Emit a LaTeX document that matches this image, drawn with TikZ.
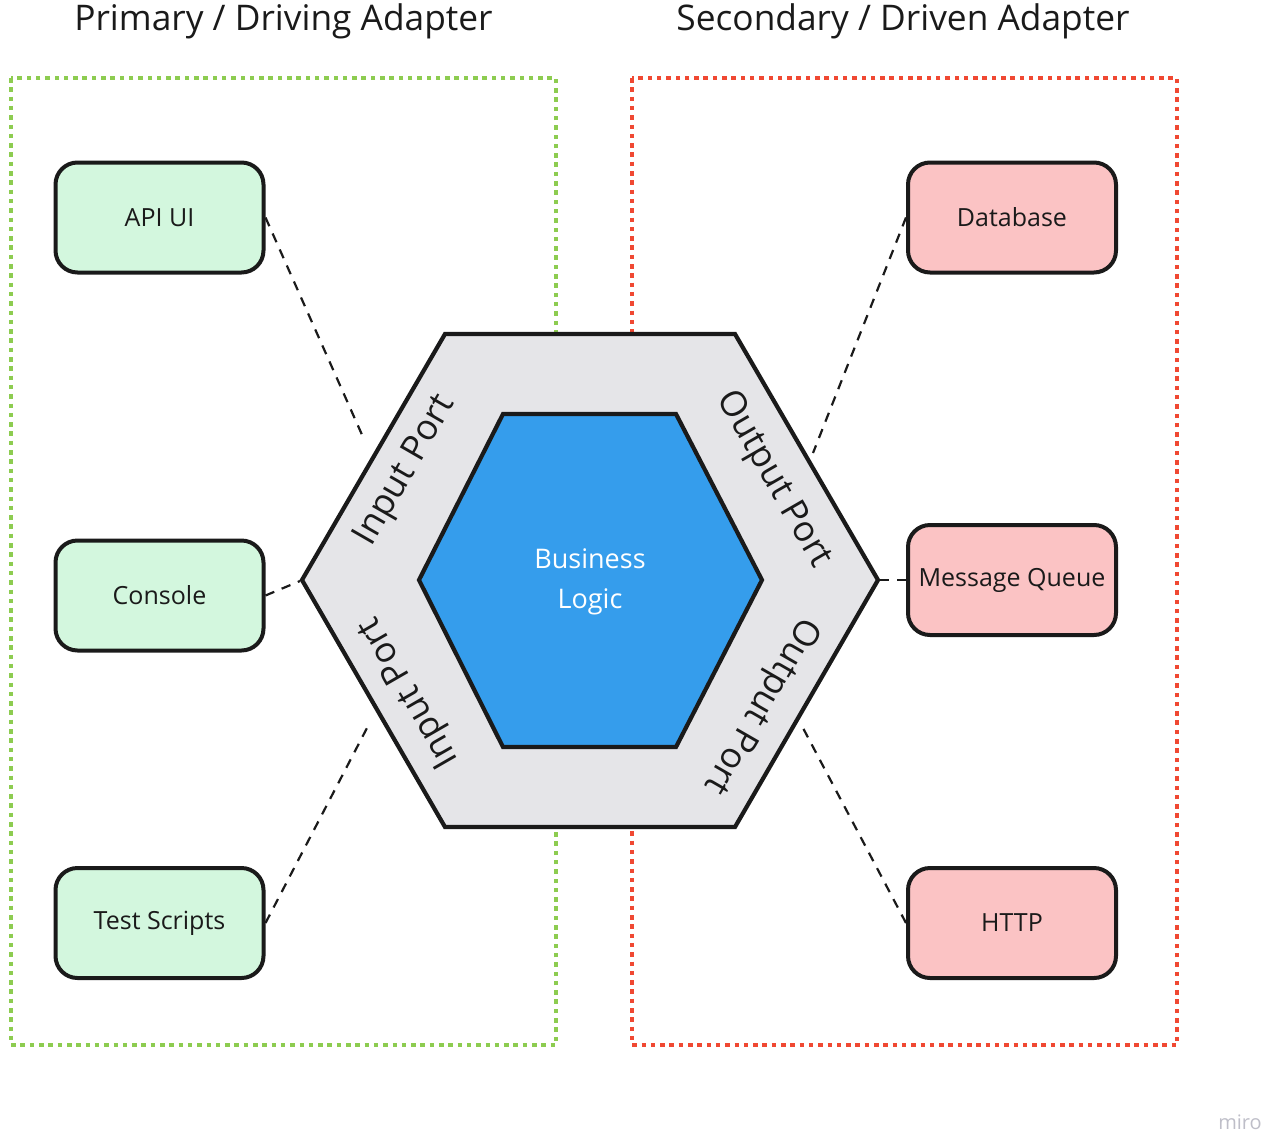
\documentclass[tikz,border=0pt]{standalone}
\usepackage{fontspec}
\setmainfont{Open Sans}
\definecolor{mint}{RGB}{211,247,222}
\definecolor{rose}{RGB}{251,195,196}
\definecolor{coreblue}{RGB}{53,157,236}
\definecolor{hexgray}{RGB}{229,229,232}
\definecolor{zgreen}{RGB}{141,204,80}
\definecolor{zred}{RGB}{240,72,50}
\definecolor{ink}{RGB}{26,26,26}
\definecolor{wmark}{RGB}{190,190,200}
\begin{document}
\begin{tikzpicture}[x=1pt,y=-1pt,
  adapter/.style={draw=ink, line width=4pt, rounded corners=22pt, minimum width=208pt, minimum height=110pt, inner sep=0pt, font=\fontsize{25}{30}\selectfont, text=ink},
  primary/.style={adapter, fill=mint},
  secondary/.style={adapter, fill=rose},
  link/.style={draw=ink, line width=2.2pt, dash pattern=on 9.5pt off 8pt},
  zone/.style={line width=4.5pt, dash pattern=on 4.5pt off 4.8pt},
  port/.style={font=\fontsize{35.5}{40}\selectfont, inner sep=0pt, text=ink},
  title/.style={font=\fontsize{35.3}{40}\selectfont, anchor=base, text=ink},
  hexring/.style={draw=ink, line width=4.2pt, line join=miter}]
\useasboundingbox (0,0) rectangle (1272,1133);

% zones
\draw[zone, draw=zgreen] (11,78) rectangle (556,1045);
\draw[zone, draw=zred] (632,78) rectangle (1177,1045);

% titles
\node[title] (tprim) at (283.5,30) {Primary / Driving Adapter};
\node[title] (tsec) at (903,30) {Secondary / Driven Adapter};

% adapters
\node[primary] (api) at (159.5,217.5) {API UI};
\node[primary] (console) at (159.5,595.5) {Console};
\node[primary] (tests) at (159.5,923) {Test Scripts};
\node[secondary] (db) at (1012,217.5) {Database};
\node[secondary] (mq) at (1012,580) {Message Queue};
\node[secondary] (http) at (1012,923) {HTTP};

% connector ends
\coordinate (eApi) at (363,437);
\coordinate (eCon) at (300,581);
\coordinate (eTst) at (367,728);
\coordinate (eDb) at (813,453);
\coordinate (eMq) at (878,580);
\coordinate (eHt) at (803,728);

\draw[link] (api.east) -- (eApi);
\draw[link] (console.east) -- (eCon);
\draw[link] (tests.east) -- (eTst);
\draw[link] (db.west) -- (eDb);
\draw[link] (mq.west) -- (eMq);
\draw[link] (http.west) -- (eHt);

% hexagons
\coordinate (o1) at (445,334);
\coordinate (o2) at (735,334);
\coordinate (o3) at (878,580);
\coordinate (o4) at (735,827);
\coordinate (o5) at (445,827);
\coordinate (o6) at (302,580);
\filldraw[hexring, fill=hexgray] (o1) -- (o2) -- (o3) -- (o4) -- (o5) -- (o6) -- cycle;
\coordinate (i1) at (503,414);
\coordinate (i2) at (676,414);
\coordinate (i3) at (762,580);
\coordinate (i4) at (676,747);
\coordinate (i5) at (503,747);
\coordinate (i6) at (419,580);
\filldraw[hexring, fill=coreblue] (i1) -- (i2) -- (i3) -- (i4) -- (i5) -- (i6) -- cycle;

\node[font=\fontsize{27}{40}\selectfont, text=white, align=center] (core) at (590,582) {Business\\Logic};

% port labels
\node[port, rotate=60] (pin1) at (406,471) {Input Port};
\node[port, rotate=-60] (pout1) at (773,480) {Output Port};
\node[port, rotate=120] (pin2) at (410,692) {Input Port};
\node[port, rotate=-120] (pout2) at (761,705) {Output Port};

% watermark
\node[text=wmark, font=\fontsize{20}{24}\selectfont] (miro) at (1240,1122) {miro};
\end{tikzpicture}
\end{document}
